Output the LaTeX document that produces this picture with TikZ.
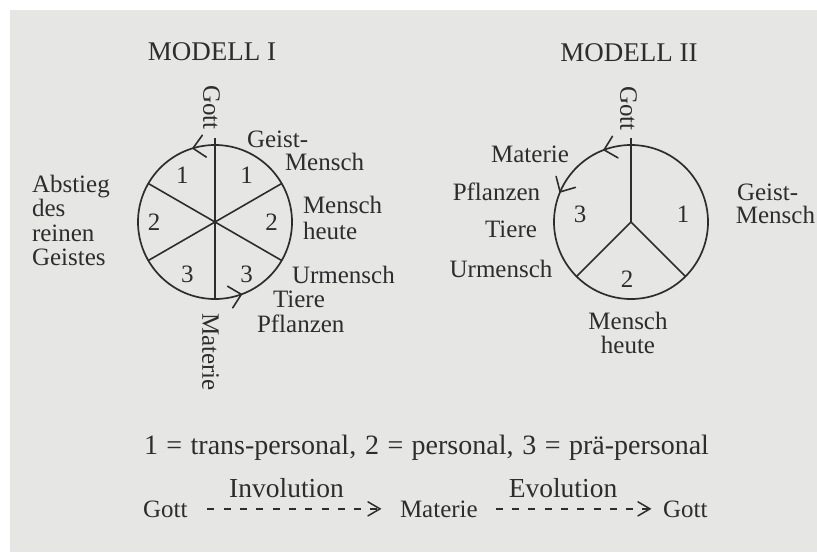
\documentclass[tikz,border=0pt]{standalone}
\usepackage{fontspec}
\setmainfont{Liberation Serif}
\usetikzlibrary{calc}
\definecolor{ink}{RGB}{45,45,45}
\definecolor{paper}{RGB}{230,230,228}
\tikzset{
  lbl/.style={inner sep=0pt, outer sep=0pt, text=ink, font=\fontsize{25}{25}\selectfont},
  titlelbl/.style={lbl, font=\fontsize{27}{27}\selectfont},
  flowlbl/.style={lbl, font=\fontsize{27.5}{27.5}\selectfont},
  legendlbl/.style={lbl, font=\fontsize{28}{28}\selectfont},
  wheel/.style={draw=ink, line width=1.7pt},
  spoke/.style={draw=ink, line width=1.6pt},
  barb/.style={draw=ink, line width=1.6pt, line cap=round, line join=miter},
  dashline/.style={draw=ink, line width=1.5pt, dash pattern=on 7pt off 9.3pt},
}
\begin{document}
\begin{tikzpicture}[x=1pt,y=-1pt]
\useasboundingbox (0,0) rectangle (817,552);
\fill[white] (0,0) rectangle (817,552);
\fill[paper] (10,10) rectangle (817,552);

% ---------------- MODELL I ----------------
\coordinate (c1) at (215,222);
\coordinate (g1top) at (215,138);
\coordinate (m1bot) at (215,298);
\draw[wheel] (c1) circle[radius=77];
\draw[spoke] (g1top) -- (m1bot);
\draw[spoke] ($(c1)+(150:77)$) -- ($(c1)+(-30:77)$);
\draw[spoke] ($(c1)+(30:77)$) -- ($(c1)+(210:77)$);
% arrowheads (counter-clockwise motion)
\coordinate (a1t) at ($(c1)+(-106.6:77)$);
\coordinate (a1b) at ($(c1)+(-94:77)$);
\draw[barb] ($(a1t)!16pt!44:(a1b)$) -- (a1t) -- ($(a1t)!16pt!-44:(a1b)$);
\coordinate (a2t) at ($(c1)+(70:77)$);
\coordinate (a2b) at ($(c1)+(83:77)$);
\draw[barb] ($(a2t)!16pt!44:(a2b)$) -- (a2t) -- ($(a2t)!16pt!-44:(a2b)$);

\node[titlelbl, anchor=base] (t1) at (212,60) {MODELL I};
\node[lbl, rotate=-90] (gott1) at (211.5,107.5) {Gott};
\node[lbl, rotate=-90] (mat1) at (210.5,352) {Materie};
\node[lbl, anchor=base west] (geist1) at (247,147) {Geist-};
\node[lbl, anchor=base west] (gmensch1) at (285,170) {Mensch};
\node[lbl, anchor=base west] (mh1a) at (303,213) {Mensch};
\node[lbl, anchor=base west] (mh1b) at (303,239) {heute};
\node[lbl, anchor=base west] (ur1) at (292,283) {Urmensch};
\node[lbl, anchor=base west] (ti1) at (273,307) {Tiere};
\node[lbl, anchor=base west] (pf1) at (257,332) {Pflanzen};
\node[lbl, anchor=base west] (ab1) at (32,192) {Abstieg};
\node[lbl, anchor=base west] (ab2) at (32,216) {des};
\node[lbl, anchor=base west] (ab3) at (32,241) {reinen};
\node[lbl, anchor=base west] (ab4) at (32,265) {Geistes};
\node[lbl, anchor=base] (n1a) at (182.3,183) {1};
\node[lbl, anchor=base] (n1b) at (246.7,183) {1};
\node[lbl, anchor=base] (n1c) at (154,230) {2};
\node[lbl, anchor=base] (n1d) at (271.7,230) {2};
\node[lbl, anchor=base] (n1e) at (187.3,282) {3};
\node[lbl, anchor=base] (n1f) at (246.7,282) {3};

% ---------------- MODELL II ----------------
\coordinate (c2) at (631,222);
\coordinate (g2top) at (631,138);
\draw[wheel] (c2) circle[radius=77];
\draw[spoke] (c2) -- (g2top);
\draw[spoke] (c2) -- ($(c2)+(45:77)$);
\draw[spoke] (c2) -- ($(c2)+(135:77)$);
\coordinate (a3t) at ($(c2)+(-110.5:77)$);
\coordinate (a3b) at ($(c2)+(-98:77)$);
\draw[barb] ($(a3t)!16pt!44:(a3b)$) -- (a3t) -- ($(a3t)!16pt!-44:(a3b)$);
\coordinate (a4t) at ($(c2)+(-157:77)$);
\coordinate (a4b) at ($(c2)+(-144:77)$);
\draw[barb] ($(a4t)!16pt!44:(a4b)$) -- (a4t) -- ($(a4t)!16pt!-44:(a4b)$);

\node[titlelbl, anchor=base] (t2) at (629,61) {MODELL II};
\node[lbl, rotate=-90] (gott2) at (628.5,108.5) {Gott};
\node[lbl, anchor=base] (mat2) at (530,162) {Materie};
\node[lbl, anchor=base] (pf2) at (496.5,200) {Pflanzen};
\node[lbl, anchor=base] (ti2) at (511,237) {Tiere};
\node[lbl, anchor=base] (ur2) at (501,277) {Urmensch};
\node[lbl, anchor=base west] (geist2) at (737,200) {Geist-};
\node[lbl, anchor=base east] (gmensch2) at (815,223) {Mensch};
\node[lbl, anchor=base] (mh2a) at (628,329) {Mensch};
\node[lbl, anchor=base] (mh2b) at (628,353) {heute};
\node[lbl, anchor=base] (n2a) at (683,222) {1};
\node[lbl, anchor=base] (n2b) at (627,287) {2};
\node[lbl, anchor=base] (n2c) at (580,222) {3};

% ---------------- Legend and flow ----------------
\node[legendlbl, anchor=base] (legend) at (426.5,454)
  {\makebox[565pt][s]{1 = trans-personal, 2 = personal, 3 = prä-personal}};
\node[lbl, anchor=base west] (gl) at (143,517) {Gott};
\node[lbl, anchor=base west] (ml) at (400,517) {Materie};
\node[lbl, anchor=base west] (gr) at (663,517) {Gott};
\node[flowlbl, anchor=base] (inv) at (286.5,497) {Involution};
\node[flowlbl, anchor=base] (evo) at (563,497) {Evolution};
\coordinate (e1) at ([xshift=-20pt]ml.west);
\coordinate (e2) at ([xshift=-13pt]gr.west);
\draw[dashline] ([xshift=20pt]gl.east) -- (e1);
\draw[barb, line width=1.5pt] ($(e1)+(-12,-7)$) -- (e1) -- ($(e1)+(-12,7)$);
\draw[dashline] ([xshift=18pt]ml.east) -- (e2);
\draw[barb, line width=1.5pt] ($(e2)+(-12,-7)$) -- (e2) -- ($(e2)+(-12,7)$);
\end{tikzpicture}
\end{document}
